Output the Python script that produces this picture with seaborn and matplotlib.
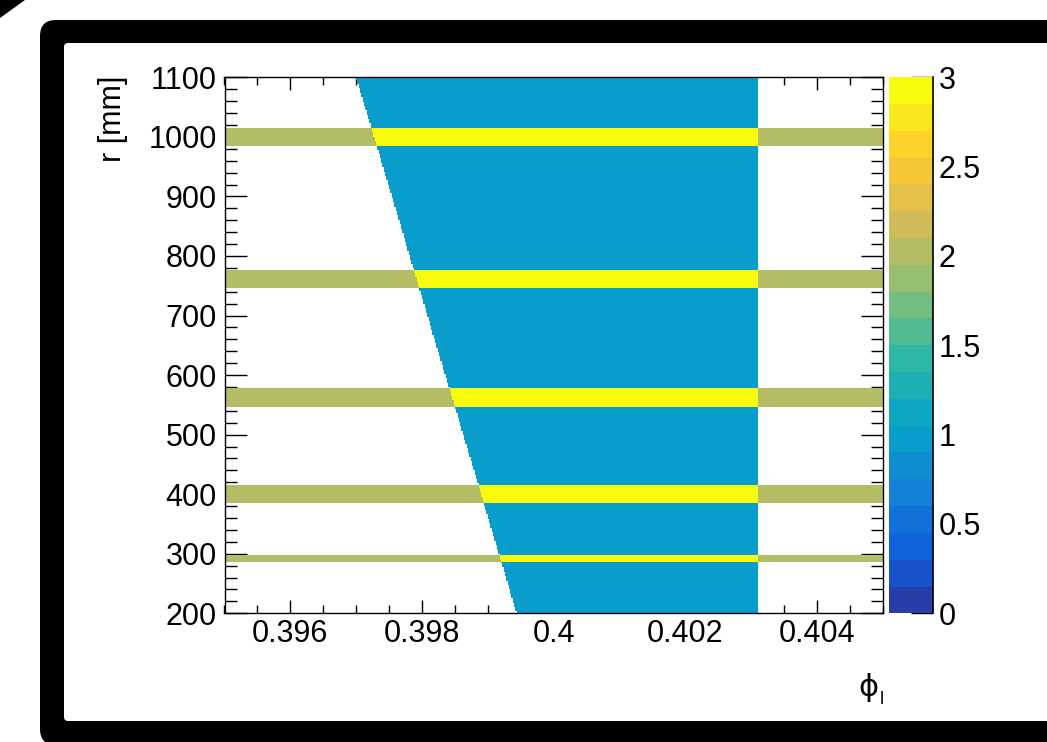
import numpy as np
import matplotlib
matplotlib.use("Agg")
import matplotlib.pyplot as plt
from matplotlib.colors import ListedColormap
from matplotlib.patches import FancyBboxPatch, Polygon
from matplotlib.transforms import IdentityTransform
from matplotlib.ticker import MultipleLocator, FixedLocator, FuncFormatter
import seaborn as sns

# ---------------- data ----------------
phi_limits = [0.395, 0.405]
r_limits = [200, 1100]
# slanted left boundary of the covered region (r, phi)
boundary_r = [200, 1100]
boundary_phi_left = [0.39944, 0.39700]
# vertical right boundary of the covered region
phi_right_edge = 0.40310
# detector layers (r ranges in mm)
layer_r_low = [286, 385, 547, 746, 985]
layer_r_high = [298, 415, 578, 777, 1015]
# histogram contents
value_region = 1
value_layer = 2
x_tick_values = [0.396, 0.398, 0.4, 0.402, 0.404]
y_tick_values = [200, 300, 400, 500, 600, 700, 800, 900, 1000, 1100]
cbar_tick_values = [0, 0.5, 1, 1.5, 2, 2.5, 3]
z_limits = [0, 3]
n_contours = 20

# ---------------- histogram grid ----------------
n_phi_bins, n_r_bins = 500, 900
phi_edges = np.linspace(phi_limits[0], phi_limits[1], n_phi_bins + 1)
r_edges = np.linspace(r_limits[0], r_limits[1], n_r_bins + 1)
phi_c = 0.5 * (phi_edges[:-1] + phi_edges[1:])
r_c = 0.5 * (r_edges[:-1] + r_edges[1:])
PHI, R = np.meshgrid(phi_c, r_c)
left_at_r = np.interp(R, boundary_r, boundary_phi_left)
inside = (PHI >= left_at_r) & (PHI <= phi_right_edge)
in_layer = np.zeros_like(inside)
for lo, hi in zip(layer_r_low, layer_r_high):
    in_layer |= (R >= lo) & (R <= hi)
Z = value_region * inside + value_layer * in_layer
mask = Z > 0
df = {"phi": PHI[mask], "r": R[mask], "w": Z[mask].astype(float)}

# ---------------- ROOT kBird palette, 20 contour levels ----------------
stops = [0.0000, 0.1250, 0.2500, 0.3750, 0.5000, 0.6250, 0.7500, 0.8750, 1.0000]
red = [0.2082, 0.0592, 0.0780, 0.0232, 0.1802, 0.5301, 0.8186, 0.9956, 0.9764]
green = [0.1664, 0.3599, 0.5041, 0.6419, 0.7178, 0.7492, 0.7328, 0.7862, 0.9832]
blue = [0.5293, 0.8684, 0.8385, 0.7914, 0.6425, 0.4662, 0.3499, 0.1968, 0.0539]
cols = []
for i in range(n_contours):
    idx = int((i + 0.99) * 255 / n_contours)
    f = min(idx / 254.0, 1.0)
    cols.append((np.interp(f, stops, red), np.interp(f, stops, green), np.interp(f, stops, blue)))
cmap = ListedColormap(cols)

# ---------------- figure ----------------
sns.set_style("white")
plt.rcParams["font.family"] = ["Liberation Sans", "DejaVu Sans"]
for k in ["text.color", "axes.labelcolor", "xtick.color", "ytick.color", "axes.edgecolor"]:
    plt.rcParams[k] = "black"

W, H = 1047, 742
fig = plt.figure(figsize=(W / 100, H / 100), dpi=100, facecolor="white")

# black rounded frame
outer = FancyBboxPatch((40, -3), 1100, 725, boxstyle="round,pad=0,rounding_size=16",
                       transform=IdentityTransform(), facecolor="black", edgecolor="none", zorder=-3)
inner = FancyBboxPatch((64, 21), 1100, 678, boxstyle="round,pad=0,rounding_size=4",
                       transform=IdentityTransform(), facecolor="white", edgecolor="none", zorder=-2)
tri = Polygon([(0, 742), (25, 742), (0, 724)], closed=True, transform=IdentityTransform(),
              facecolor="black", edgecolor="none", zorder=-2)
fig.patches.extend([outer, inner, tri])

ax_l, ax_r, ax_t, ax_b = 224.5, 882.7, 77.3, 613.3
ax = fig.add_axes([ax_l / W, (H - ax_b) / H, (ax_r - ax_l) / W, (ax_b - ax_t) / H])
cax = fig.add_axes([889 / W, (H - ax_b) / H, 44 / W, (ax_b - ax_t) / H])

sns.histplot(data=df, x="phi", y="r", weights="w", bins=[phi_edges, r_edges],
             cmap=cmap, vmin=z_limits[0], vmax=z_limits[1], cbar=True, cbar_ax=cax, ax=ax)

ax.set_xlim(*phi_limits)
ax.set_ylim(*r_limits)
ax.set_xlabel("")
ax.set_ylabel("")
ax.set_facecolor("none")
for s in ax.spines.values():
    s.set_visible(True)
    s.set_linewidth(1.0)
    s.set_color("black")

fs = 22
ax.xaxis.set_major_locator(FixedLocator(x_tick_values))
ax.xaxis.set_minor_locator(MultipleLocator(0.0005))
ax.xaxis.set_major_formatter(FuncFormatter(lambda v, p: f"{v:g}"))
ax.yaxis.set_major_locator(FixedLocator(y_tick_values))
ax.yaxis.set_minor_locator(MultipleLocator(20))
ax.tick_params(axis="x", which="both", direction="in", top=True, bottom=True,
               labelsize=fs, pad=4, width=1.0, color="black", labelcolor="black")
ax.tick_params(axis="x", which="major", length=9.4)
ax.tick_params(axis="x", which="minor", length=5.8)
ax.tick_params(axis="y", which="both", direction="in", left=True, right=True,
               labelsize=fs, pad=5.5, width=1.0, color="black", labelcolor="black")
ax.tick_params(axis="y", which="major", length=16)
ax.tick_params(axis="y", which="minor", length=8.6)

# colorbar styling (ROOT palette axis)
cbar = ax.collections[0].colorbar
cbar.outline.set_visible(False)
cbar.set_ticks(cbar_tick_values)
cbar.set_ticklabels([f"{v:g}" for v in cbar_tick_values])
cax.minorticks_off()
cax.tick_params(axis="y", which="major", direction="in", left=False, right=True,
                labelleft=False, labelright=True, length=16, width=1.0,
                labelsize=fs, pad=4, color="black", labelcolor="black")
cax.plot([1, 1], [0, 1], transform=cax.transAxes, color="black", lw=1.2, clip_on=False)

# axis titles (ROOT style: aligned to axis end)
fig.text(113.5 / W, (H - 76) / H, "r [mm]", rotation=90, ha="center", va="top", fontsize=fs)
fig.text(879 / W, (H - 688) / H, "ϕ", ha="right", va="center", fontsize=fs,
         family=["DejaVu Sans"])
fig.text(879.5 / W, (H - 700) / H, "l", ha="left", va="center", fontsize=13)

fig.savefig("out.png", dpi=100, facecolor="white")
